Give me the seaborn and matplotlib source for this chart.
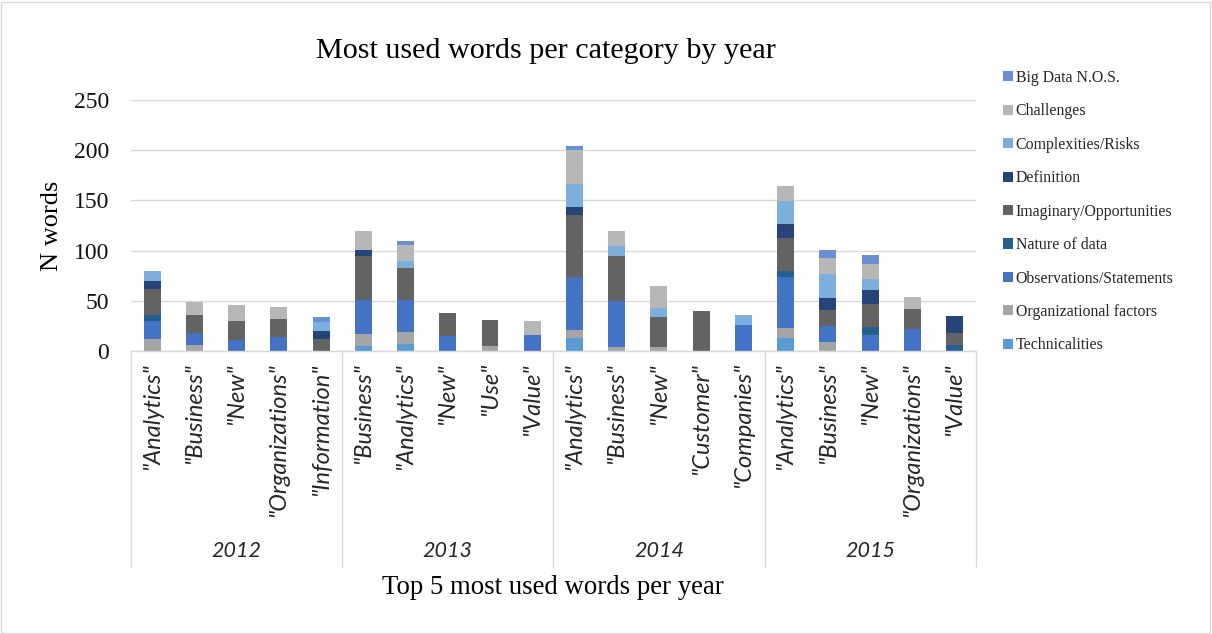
import numpy as np
import pandas as pd
import seaborn as sns
import matplotlib
matplotlib.use("Agg")
import matplotlib.pyplot as plt
from matplotlib.patches import Patch, Rectangle
from matplotlib.transforms import blended_transform_factory

# ---------------- data ----------------
years = ["2012", "2013", "2014", "2015"]
words = ['"Analytics"', '"Business"', '"New"', '"Organizations"', '"Information"',
         '"Business"', '"Analytics"', '"New"', '"Use"', '"Value"',
         '"Analytics"', '"Business"', '"New"', '"Customer"', '"Companies"',
         '"Analytics"', '"Business"', '"New"', '"Organizations"', '"Value"']
word_year = ["2012"] * 5 + ["2013"] * 5 + ["2014"] * 5 + ["2015"] * 5

series_names = ["Big Data N.O.S.", "Challenges", "Complexities/Risks", "Definition",
                "Imaginary/Opportunities", "Nature of data", "Observations/Statements",
                "Organizational factors", "Technicalities"]

big_data       = [0, 0, 0, 0, 5,   0, 4, 0, 0, 0,    4, 0, 0, 0, 0,    0, 8, 9, 0, 0]
challenges     = [0, 13, 16, 12, 0, 19, 16, 0, 0, 14, 34, 15, 22, 0, 0, 15, 16, 15, 12, 0]
complexities   = [10, 0, 0, 0, 9,  0, 7, 0, 0, 0,    23, 10, 9, 0, 10, 23, 24, 11, 0, 0]
definition     = [8, 0, 0, 0, 8,   6, 0, 0, 0, 0,    8, 0, 0, 0, 0,    13, 12, 14, 0, 17]
imaginary      = [26, 18, 19, 18, 12, 44, 32, 23, 26, 0, 61, 45, 30, 40, 0, 33, 16, 23, 20, 12]
nature         = [6, 0, 0, 0, 0,   0, 0, 0, 0, 0,    0, 0, 0, 0, 0,    6, 0, 8, 0, 6]
observations   = [18, 12, 11, 14, 0, 34, 32, 15, 0, 16, 53, 46, 0, 0, 26, 51, 16, 16, 22, 0]
organizational = [12, 6, 0, 0, 0,  12, 12, 0, 5, 0,  8, 4, 4, 0, 0,    10, 9, 0, 0, 0]
technicalities = [0, 0, 0, 0, 0,   5, 7, 0, 0, 0,    13, 0, 0, 0, 0,   13, 0, 0, 0, 0]

series_values = [big_data, challenges, complexities, definition, imaginary,
                 nature, observations, organizational, technicalities]

colors = ["#6a8fd3", "#b7b7b7", "#7cafdd", "#264478", "#636363",
          "#255e91", "#4472c4", "#a5a5a5", "#5b9bd5"]

# ---------------- style ----------------
sns.set_theme(style="white")
plt.rcParams['font.family'] = ['Liberation Serif', 'DejaVu Serif']

rows = []
for name, vals in zip(series_names, series_values):
    for i, v in enumerate(vals):
        rows.append({"pos": i, "category": name, "n": v})
df = pd.DataFrame(rows)

W, H = 1212, 634
fig = plt.figure(figsize=(W / 100, H / 100), dpi=100)
ax = fig.add_axes([131 / W, 1 - 351 / H, (975.7 - 131) / W, 251 / H])

sns.histplot(data=df, x="pos", weights="n", hue="category", hue_order=series_names,
             palette=colors, multiple="stack", discrete=True, shrink=0.4,
             linewidth=0, alpha=1, legend=False, ax=ax)

ax.set_xlim(-0.5, len(words) - 0.5)
ax.set_ylim(0, 250)
ax.set_yticks([0, 50, 100, 150, 200, 250])
ax.yaxis.grid(True, color="#d9d9d9", lw=1)
ax.set_axisbelow(True)
for s in ["top", "left", "right"]:
    ax.spines[s].set_visible(False)
ax.spines["bottom"].set_color("#d9d9d9")
ax.spines["bottom"].set_linewidth(1)
ax.set_xlabel("")
ax.set_ylabel("")

ax.tick_params(axis="y", length=0, pad=15.6, labelsize=17, labelcolor="#111111")
ax.set_xticks(np.arange(len(words)))
ax.set_xticklabels(words, rotation=90, fontfamily="Lato", fontstyle="italic",
                   fontsize=17, color="#262626")
ax.tick_params(axis="x", length=0, pad=8)

trans = blended_transform_factory(ax.transData, fig.transFigure)
# multi-level category separators
bounds = [-0.5, 4.5, 9.5, 14.5, 19.5]
for xv in bounds:
    ax.plot([xv, xv], [1 - 351 / H, 1 - 567 / H], transform=trans,
            color="#d9d9d9", lw=1, clip_on=False)
pos = np.arange(len(words))
for yr in years:
    c = pos[[w == yr for w in word_year]].mean()
    ax.text(c, 1 - 551 / H, yr, transform=trans, ha="center", va="center",
            fontfamily="Lato", fontstyle="italic", fontsize=15.5, color="#262626")
ax.set_xlim(-0.5, len(words) - 0.5)

# titles
fig.text(546 / W, 1 - 58 / H, "Most used words per category by year",
         ha="center", va="baseline", fontsize=21.7, color="black")
fig.text(553 / W, 1 - 594 / H, "Top 5 most used words per year",
         ha="center", va="baseline", fontsize=19.3, color="black")
fig.text(52 / W, 1 - 226 / H, "N words", rotation=90,
         ha="center", va="center", fontsize=19, color="black")

# legend
handles = [Patch(facecolor=c, edgecolor="none") for c in colors]
fig.legend(handles, series_names, loc="upper left",
           bbox_to_anchor=(1003 / W, 1 - 70 / H), frameon=False,
           fontsize=11.4, handlelength=0.6, handleheight=0.6,
           handletextpad=0.2, labelspacing=1.1, borderaxespad=0, borderpad=0)

# chart border
fig.add_artist(Rectangle((1 / W, 1 / H), 1209 / W, 631 / H, transform=fig.transFigure,
                         fill=False, ec="#d9d9d9", lw=1))

fig.savefig("out.png", dpi=100)
